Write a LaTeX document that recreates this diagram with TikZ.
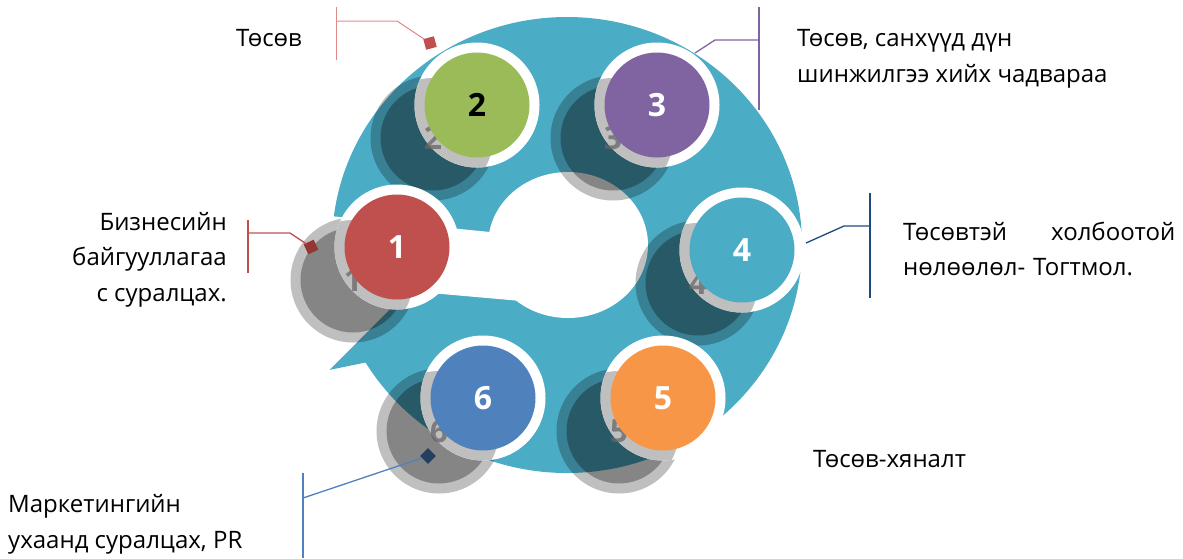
\documentclass[tikz,border=0pt]{standalone}
\usepackage{fontspec}
\setmainfont{Open Sans}

\definecolor{ringteal}{HTML}{4BACC6}
\definecolor{cred}{HTML}{C0504D}
\definecolor{cgreen}{HTML}{9BBB59}
\definecolor{cpurple}{HTML}{8064A2}
\definecolor{corange}{HTML}{F79646}
\definecolor{cblue}{HTML}{4F81BD}
\definecolor{ringgray}{HTML}{BFBFBF}
\definecolor{darkred}{HTML}{943634}
\definecolor{navy}{HTML}{1F497D}
\definecolor{darknavy}{HTML}{243F60}
\definecolor{pinkline}{HTML}{E08A8A}

\begin{document}
\begin{tikzpicture}[
    x=1pt, y=-1pt,
    disc/.style={circle, minimum size=105pt, inner sep=0pt,
        font=\fontsize{32}{32}\selectfont\bfseries},
    ghost/.style={inner sep=0pt, text=black!60, opacity=.75,
        font=\fontsize{32}{32}\selectfont\bfseries},
    marker/.style={rectangle, minimum size=11pt, inner sep=0pt},
    caption/.style={inner sep=0pt, font=\fontsize{24}{35.5}\selectfont}
]
    \useasboundingbox (0,0) rectangle (1183,558);

    % Ring with its tail and the inner hole
    \fill[ringteal] (567,245) ellipse [x radius=235pt, y radius=228pt];
    \fill[ringteal] (329,370) -- (368,362) -- (408,291) -- cycle;
    \fill[white] (568,245) ellipse [x radius=80pt, y radius=73pt];
    \fill[white] (490,232) -- (310,214) -- (310,389) -- (408,291)
        -- (555,304) -- (533,311) -- cycle;

    % Shadows
    \foreach \x/\y in {397/247, 477/105, 657/105, 742/250, 663/398, 483/398} {
        \fill[black, opacity=.25] (\x-44,\y+33) circle (62.5pt);
        \fill[black, opacity=.3] (\x-44,\y+33) circle (52.5pt);
    }

    % Callouts
    \coordinate (top2) at (336,7);
    \coordinate (bot2) at (336,60);
    \coordinate (bar2) at (336,21);
    \coordinate (elb2) at (397,21);
    \node[marker, fill=cred, rotate=15] (m2) at (430,43) {};
    \draw[pinkline, line width=1pt] (top2) -- (bot2);
    \draw[pinkline, line width=1pt] (bar2) -- (elb2) -- (m2);

    \coordinate (top3) at (759,7);
    \coordinate (bot3) at (759,110);
    \coordinate (bar3) at (759,40);
    \coordinate (elb3) at (715,40);
    \coordinate (end3) at (695,53);
    \draw[cpurple, line width=1.3pt] (top3) -- (bot3);
    \draw[cpurple, line width=1.3pt] (bar3) -- (elb3) -- (end3);

    \coordinate (top1) at (248,220);
    \coordinate (bot1) at (248,273);
    \coordinate (bar1) at (248,233);
    \coordinate (elb1) at (290,233);
    \node[marker, fill=darkred, rotate=25] (m1) at (311,247) {};
    \draw[cred, line width=1.3pt] (top1) -- (bot1);
    \draw[cred, line width=1.3pt] (bar1) -- (elb1) -- (m1);

    \coordinate (top4) at (870,193);
    \coordinate (bot4) at (870,298);
    \coordinate (bar4) at (870,226);
    \coordinate (elb4) at (844,226);
    \coordinate (end4) at (806,243);
    \draw[navy, line width=1.3pt] (top4) -- (bot4);
    \draw[navy, line width=1.3pt] (bar4) -- (elb4) -- (end4);

    \coordinate (top6) at (303,473);
    \coordinate (bot6) at (303,558);
    \coordinate (bar6) at (303,498);
    \node[marker, fill=darknavy, rotate=45] (m6) at (428,456) {};
    \draw[cblue, line width=1.3pt] (top6) -- (bot6);
    \draw[cblue, line width=1.3pt] (bar6) -- (m6);

    % Numbered circles
    \foreach \n/\x/\y/\col/\ink in {1/397/247/cred/white, 2/477/105/cgreen/black,
            3/657/105/cpurple/white, 4/742/250/ringteal/white,
            5/663/398/corange/white, 6/483/398/cblue/white} {
        \fill[white] (\x,\y) circle (62.5pt);
        \begin{scope}
            \clip (\x-44,\y+33) circle (60pt);
            \fill[ringgray] (\x,\y) circle (62.5pt);
        \end{scope}
        \node[ghost] (g\n) at (\x-44,\y+33) {\n};
        \node[disc, fill=\col, text=\ink] (c\n) at (\x,\y) {\n};
    }

    % Add captions
    \node[caption, anchor=base west] (t2) at (236,46) {Төсөв};
    \node[caption, anchor=base west, align=left] (t3) at (797,82)
        {Төсөв, санхүүд дүн\\шинжилгээ хийх чадвараа};
    \node[caption, anchor=base east, align=right] (t1) at (227,301)
        {Бизнесийн\\байгууллагаа\\с суралцах.};
    \node[caption, anchor=base west, text width=272pt, align=left] (t4) at (903,240)
        {Төсөвтэй\hfill холбоотой\\нөлөөлөл- Тогтмол.};
    \node[caption, anchor=base west] (t5) at (813,467) {Төсөв-хяналт};
    \node[caption, anchor=base west, align=left] (t6) at (8,548)
        {Маркетингийн\\ухаанд суралцах, PR};
\end{tikzpicture}
\end{document}
